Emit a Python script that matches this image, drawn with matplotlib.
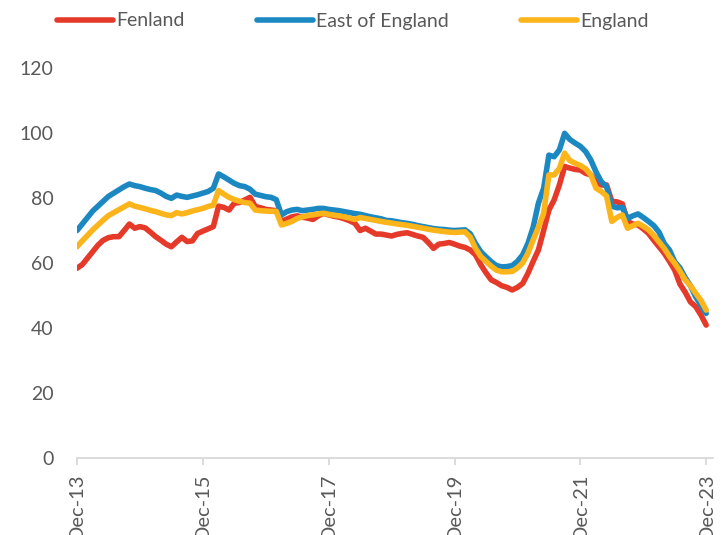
# 住宅指標の推移 (Dec-13 から Dec-23 までの月次)
import numpy as np
import pandas as pd
import matplotlib
matplotlib.use('Agg')
import matplotlib.pyplot as plt
from matplotlib.lines import Line2D

plt.rcParams['font.family'] = ['Lato', 'DejaVu Sans']

# 月次の日付 (121 点)
months = pd.date_range('2013-12-01', '2023-12-01', freq='MS')

fenland = [
    58.4, 59.5, 61.5, 63.5, 65.5, 67.0, 67.8, 68.1, 68.1, 70.0,
    72.0, 70.7, 71.2, 70.8, 69.5, 68.1, 67.0, 65.8, 65.0, 66.5,
    67.9, 66.6, 66.8, 69.1, 69.8, 70.5, 71.2, 77.5, 77.1, 76.3,
    78.4, 78.6, 79.4, 80.2, 77.4, 77.0, 76.5, 76.3, 76.1, 72.8,
    73.5, 74.2, 74.5, 74.1, 73.8, 73.4, 74.5, 75.3, 74.8, 74.4,
    74.1, 73.6, 73.0, 72.2, 70.0, 70.7, 69.8, 68.9, 68.9, 68.6,
    68.3, 68.8, 69.1, 69.3, 68.8, 68.3, 67.9, 66.3, 64.5, 65.8,
    66.0, 66.3, 65.8, 65.2, 64.8, 64.0, 62.5, 59.5, 57.0, 54.8,
    54.0, 53.0, 52.5, 51.7, 52.5, 53.7, 56.8, 60.5, 64.0, 70.0,
    76.3, 79.4, 84.0, 89.7, 89.2, 88.8, 88.6, 87.6, 87.1, 85.0,
    84.0, 84.0, 79.0, 78.8, 78.2, 72.8, 72.0, 71.7, 70.5, 69.1,
    67.0, 65.0, 63.0, 60.5, 57.8, 53.5, 51.0, 48.0, 46.6, 44.0,
    40.9,
]

east_of_england = [
    70.0, 72.0, 74.0, 76.0, 77.5, 79.0, 80.5, 81.5, 82.5, 83.5,
    84.3, 83.8, 83.5, 83.0, 82.6, 82.3, 81.5, 80.5, 79.9, 80.9,
    80.5, 80.2, 80.6, 81.0, 81.5, 82.0, 83.0, 87.4, 86.5, 85.5,
    84.5, 83.8, 83.5, 82.7, 81.2, 80.8, 80.4, 80.2, 79.5, 74.8,
    75.8, 76.3, 76.5, 76.1, 76.3, 76.5, 76.8, 76.8, 76.5, 76.3,
    76.1, 75.8, 75.5, 75.2, 75.0, 74.6, 74.2, 73.9, 73.6, 73.1,
    73.0, 72.7, 72.4, 72.2, 71.9, 71.5, 71.2, 70.9, 70.6, 70.4,
    70.3, 70.1, 70.0, 70.1, 70.2, 69.0, 66.0, 63.5, 61.9, 60.4,
    59.2, 58.8, 58.9, 59.2, 60.5, 62.5, 66.0, 71.0, 78.4, 83.0,
    93.2, 92.7, 94.8, 99.9, 98.0, 96.9, 95.9, 94.3, 91.7, 88.0,
    85.0, 83.5, 77.5, 77.0, 77.1, 73.7, 74.5, 75.1, 74.0, 72.8,
    71.5, 69.5, 66.0, 64.0, 60.4, 58.5, 55.5, 53.0, 49.6, 47.0,
    44.5,
]

england = [
    65.0, 66.8, 68.5, 70.2, 71.7, 73.2, 74.6, 75.5, 76.4, 77.3,
    78.2, 77.5, 77.1, 76.7, 76.2, 75.8, 75.3, 74.8, 74.6, 75.5,
    75.1, 75.5, 76.0, 76.4, 76.8, 77.4, 77.8, 82.3, 81.2, 80.2,
    79.5, 79.0, 78.6, 78.4, 76.3, 76.1, 76.0, 75.9, 75.9, 71.7,
    72.2, 72.8, 73.7, 74.2, 74.6, 74.8, 75.1, 75.3, 75.0, 74.7,
    74.5, 74.2, 73.8, 73.4, 74.0, 73.7, 73.4, 73.1, 72.8, 72.5,
    72.3, 72.0, 71.8, 71.6, 71.3, 71.0, 70.7, 70.4, 70.1, 69.9,
    69.7, 69.5, 69.4, 69.5, 69.6, 68.0, 64.5, 62.0, 60.5, 59.0,
    57.8, 57.3, 57.3, 57.4, 58.5, 60.0, 63.0, 67.1, 71.0, 75.3,
    87.1, 87.1, 89.1, 93.8, 91.5, 90.7, 90.0, 89.0, 87.1, 83.0,
    82.0, 80.6, 72.8, 74.0, 74.8, 70.7, 71.5, 72.2, 71.3, 70.2,
    68.5, 66.5, 64.5, 62.0, 59.9, 57.5, 54.8, 53.0, 50.7, 48.5,
    45.5,
]

series_names = ['Fenland', 'East of England', 'England']
series_colors = ['#E53A2A', '#1B88C1', '#FBB41A']

tick_labels = ['Dec-13', 'Dec-15', 'Dec-17', 'Dec-19', 'Dec-21', 'Dec-23']
y_ticks = [0, 20, 40, 60, 80, 100, 120]

text_color = '#595959'
axis_color = '#D9D9D9'

fig = plt.figure(figsize=(7.28, 5.35), dpi=100)
ax = fig.add_axes([77 / 728, 1 - 458 / 535, (713 - 77) / 728, (458 - 68) / 535])

x = np.arange(len(months))
handles = []
for name, vals, col in zip(series_names,
                           [fenland, east_of_england, england],
                           series_colors):
    ax.plot(x, vals, color=col, lw=4, solid_capstyle='round',
            solid_joinstyle='round', label=name)
    handles.append(Line2D([0], [0], color=col, lw=4, solid_capstyle='round'))

# 2 年ごとの目盛り
tick_pos = [i for i, d in enumerate(months) if d.month == 12 and d.year % 2 == 1]
ax.set_xticks(tick_pos)
ax.set_xticklabels(tick_labels, rotation=90, va='top', ha='center')
ax.set_xlim(0, 121.3)
ax.set_ylim(0, 120)
ax.set_yticks(y_ticks)

for s in ['top', 'right', 'left']:
    ax.spines[s].set_visible(False)
ax.spines['bottom'].set_color(axis_color)
ax.spines['bottom'].set_linewidth(1.3)

ax.tick_params(axis='x', colors=axis_color, length=5, width=1.3,
               labelcolor=text_color, labelsize=14.5, pad=6)
ax.tick_params(axis='y', length=0, labelcolor=text_color, labelsize=14, pad=17)

fig.legend(handles, series_names, loc='center left', ncol=3,
           bbox_to_anchor=(57 / 728, 1 - 21 / 535), frameon=False,
           fontsize=14, labelcolor=text_color, handlelength=2.9,
           handletextpad=0.15, columnspacing=3.7, borderpad=0,
           borderaxespad=0)

fig.savefig('out.png', dpi=100)
plt.close(fig)
